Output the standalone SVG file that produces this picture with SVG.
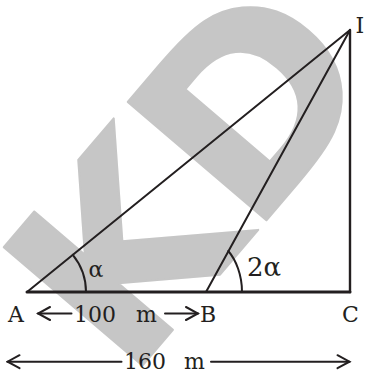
<svg xmlns="http://www.w3.org/2000/svg" width="366" height="372" viewBox="0 0 366 372">
<style>
.ln{stroke:#231f20;fill:none;stroke-linecap:round;stroke-linejoin:round}
.t{font-family:"DejaVu Serif","Liberation Serif",serif;fill:#231f20;font-size:22px}
.wm{font-family:"DejaVu Sans",sans-serif;font-weight:bold;font-size:250px;fill:#c6c6c6;stroke:#c6c6c6;stroke-width:2;stroke-linejoin:round}
</style>
<defs>
<marker id="ah" viewBox="-14 -9 16 18" markerWidth="16" markerHeight="18" refX="0" refY="0" orient="auto-start-reverse" markerUnits="userSpaceOnUse">
<path d="M-12,-6.5 L0,0 L-12,6.5" fill="none" stroke="#231f20" stroke-width="2" stroke-linecap="round" stroke-linejoin="miter"/>
</marker>
</defs>
<rect width="366" height="372" fill="#fff"/>
<g id="watermark" transform="translate(128,102) rotate(-49.5)">
<text class="wm" x="-23" y="182">D</text>
<text class="wm" x="-214" y="182">K</text>
</g>
<g id="connectors">
<line class="ln" x1="27" y1="292" x2="350" y2="292" stroke-width="3"/>
<line class="ln" x1="350" y1="292" x2="350" y2="30" stroke-width="2.4"/>
<line class="ln" x1="27" y1="292" x2="350" y2="30" stroke-width="2"/>
<line class="ln" x1="206" y1="292" x2="350" y2="30" stroke-width="2"/>
<path class="ln" d="M86,292 A59,59 0 0 0 72.8,254.8" stroke-width="2"/>
<path class="ln" d="M242,292 C242,275 236,260 228.3,251" stroke-width="2"/>
<line class="ln" x1="38" y1="313.5" x2="71.5" y2="313.5" stroke-width="2" marker-start="url(#ah)"/>
<line class="ln" x1="165" y1="313.5" x2="198" y2="313.5" stroke-width="2" marker-end="url(#ah)"/>
<line class="ln" x1="7.5" y1="361.7" x2="121.5" y2="361.7" stroke-width="2" marker-start="url(#ah)"/>
<line class="ln" x1="211" y1="361.7" x2="349.5" y2="361.7" stroke-width="2" marker-end="url(#ah)"/>
</g>
<g id="node-I"><text class="t" x="355.5" y="33">I</text></g>
<g id="node-A"><text class="t" x="8" y="322">A</text></g>
<g id="node-B"><text class="t" x="200" y="322">B</text></g>
<g id="node-C"><text class="t" x="342" y="322">C</text></g>
<g id="label-alpha"><text class="t" x="88.5" y="277">α</text></g>
<g id="label-2alpha"><text class="t" x="247" y="276" style="font-size:26px">2α</text></g>
<g id="label-100"><text class="t" x="74" y="322">100<tspan x="136">m</tspan></text></g>
<g id="label-160"><text class="t" x="124" y="368.5">160<tspan x="184">m</tspan></text></g>
</svg>
